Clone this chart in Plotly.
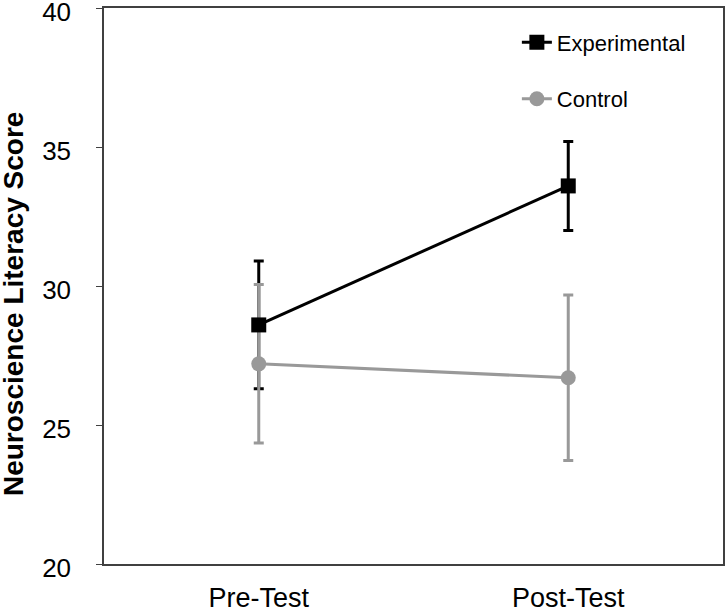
import plotly.graph_objects as go

categories = ["Pre-Test", "Post-Test"]
exp_mean = [28.6, 33.6]
exp_err = [2.3, 1.6]
ctrl_mean = [27.2, 26.7]
ctrl_err = [2.85, 2.98]
y_title = "Neuroscience Literacy Score"

BLACK = "#000000"
GRAY = "#999999"
FONT = "Liberation Sans, Arial, sans-serif"

fig = go.Figure()
# experimental error bars (drawn beneath control)
fig.add_trace(go.Scatter(
    x=categories, y=exp_mean, mode="markers",
    marker=dict(size=1, color="rgba(0,0,0,0)"),
    error_y=dict(type="data", array=exp_err, visible=True, color=BLACK, thickness=3, width=5),
    showlegend=False, hoverinfo="skip"))
fig.add_trace(go.Scatter(
    x=categories, y=ctrl_mean, mode="lines+markers", name="Control",
    line=dict(color=GRAY, width=3),
    marker=dict(symbol="circle", size=15, color=GRAY),
    error_y=dict(type="data", array=ctrl_err, visible=True, color=GRAY, thickness=3, width=5),
    legendrank=2))
fig.add_trace(go.Scatter(
    x=categories, y=exp_mean, mode="lines+markers", name="Experimental",
    line=dict(color=BLACK, width=3),
    marker=dict(symbol="square", size=15, color=BLACK),
    legendrank=1))

fig.update_layout(
    width=727, height=609,
    margin=dict(l=104, r=4, t=8, b=45),
    paper_bgcolor="white", plot_bgcolor="white",
    font=dict(family=FONT, color="black"),
    showlegend=True,
    legend=dict(x=0.667, y=0.976, xanchor="left", yanchor="top",
                font=dict(size=22, family=FONT), tracegroupgap=25,
                traceorder="grouped", bgcolor="rgba(0,0,0,0)", itemwidth=30),
    xaxis=dict(range=[-0.5, 1.5], showline=True, mirror=True, linecolor="#404040", linewidth=1.5,
               ticks="", tickfont=dict(size=27), showgrid=False, zeroline=False,
               ticklabelstandoff=9, automargin=False, ticklabeloverflow="allow"),
    yaxis=dict(range=[20, 40], tickvals=[20, 25, 30, 35, 40], showline=True, mirror=True,
               linecolor="#404040", linewidth=1.5, ticks="outside", ticklen=6, tickcolor="#404040",
               tickfont=dict(size=26), showgrid=False, zeroline=False, ticklabelstandoff=20,
               ticklabelshift=4, automargin=False, ticklabeloverflow="allow"),
    annotations=[dict(text="<b>" + y_title + "</b>", xref="paper", yref="paper",
                      x=-0.145, y=0.468, xanchor="center", yanchor="middle",
                      textangle=-90, showarrow=False, font=dict(size=28, family=FONT))],
)
for i, t in enumerate(fig.data):
    t.legendgroup = str(i)

fig.write_html("out.html", config={"displayModeBar": False},
               post_script="document.body.style.margin='0';")
